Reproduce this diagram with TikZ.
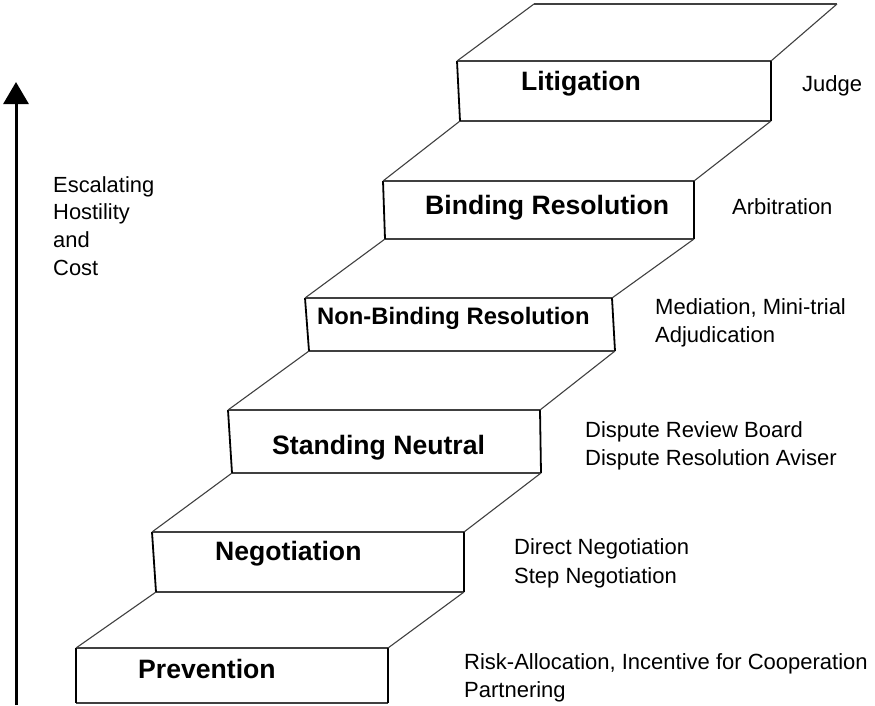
\documentclass[tikz,border=0pt]{standalone}
\usepackage{fontspec}
\setmainfont{Liberation Sans}
\usetikzlibrary{arrows.meta}
\begin{document}
\begin{tikzpicture}[x=1pt,y=-1pt,
  hline/.style={line width=1.1pt,draw=black!75},
  vline/.style={line width=1.8pt,draw=black},
  stepname/.style={anchor=base west,inner sep=0pt,font=\fontsize{26.6}{30}\selectfont\bfseries},
  sidelabel/.style={anchor=base west,inner sep=0pt,font=\fontsize{22}{26}\selectfont},
  axlabel/.style={anchor=base west,inner sep=0pt,font=\fontsize{21.9}{26}\selectfont},
  axarrow/.style={line width=3pt,-{Triangle[width=25pt,length=22pt]}}
]
\useasboundingbox (0,0) rectangle (875,705);

% step corners (tl, tr, br, bl)
\coordinate (s1tl) at (76,648);  \coordinate (s1tr) at (388,648); \coordinate (s1br) at (388,703); \coordinate (s1bl) at (76,703);
\coordinate (s2tl) at (152,532); \coordinate (s2tr) at (464,532); \coordinate (s2br) at (464,592); \coordinate (s2bl) at (156,592);
\coordinate (s3tl) at (228,410); \coordinate (s3tr) at (540,410); \coordinate (s3br) at (541,473); \coordinate (s3bl) at (232,473);
\coordinate (s4tl) at (305,298); \coordinate (s4tr) at (612,298); \coordinate (s4br) at (615,351); \coordinate (s4bl) at (309,351);
\coordinate (s5tl) at (383,181); \coordinate (s5tr) at (694,181); \coordinate (s5br) at (694,239); \coordinate (s5bl) at (385,239);
\coordinate (s6tl) at (457,61);  \coordinate (s6tr) at (771,61);  \coordinate (s6br) at (771,121); \coordinate (s6bl) at (460,121);
\coordinate (s7bl) at (534,4);   \coordinate (s7br) at (837,4);

% front faces
\foreach \i in {1,...,6}{
  \draw[hline] (s\i tl) -- (s\i tr);
  \draw[hline] (s\i bl) -- (s\i br);
  \draw[vline] (s\i tl) -- (s\i bl);
  \draw[vline] (s\i tr) -- (s\i br);
}
% treads
\foreach \i/\j in {1/2,2/3,3/4,4/5,5/6,6/7}{
  \draw[hline] (s\i tl) -- (s\j bl);
  \draw[hline] (s\i tr) -- (s\j br);
}
\draw[hline] (s7bl) -- (s7br);

% step names
\node[stepname] (n1) at (138,678) {Prevention};
\node[stepname] (n2) at (215,560) {Negotiation};
\node[stepname] (n3) at (272,454) {Standing Neutral};
\node[stepname,font=\fontsize{23.8}{28}\selectfont\bfseries] (n4) at (317,324) {Non-Binding Resolution};
\node[stepname] (n5) at (425,214) {Binding Resolution};
\node[stepname] (n6) at (521,90.5) {Litigation};

% side labels
\node[sidelabel] (l6) at (802,91) {Judge};
\node[sidelabel] (l5) at (732,214) {Arbitration};
\node[sidelabel] (l4a) at (655,314) {Mediation, Mini-trial};
\node[sidelabel] (l4b) at (655,342) {Adjudication};
\node[sidelabel] (l3a) at (585,437) {Dispute Review Board};
\node[sidelabel] (l3b) at (585,465) {Dispute Resolution Aviser};
\node[sidelabel] (l2a) at (514,554) {Direct Negotiation};
\node[sidelabel] (l2b) at (514,583) {Step Negotiation};
\node[sidelabel] (l1a) at (464,669) {Risk-Allocation, Incentive for Cooperation};
\node[sidelabel] (l1b) at (464,697) {Partnering};

% axis
\coordinate (abot) at (16,705);
\coordinate (atop) at (16,82);
\draw[axarrow] (abot) -- (atop);
\node[axlabel] (e1) at (53,192) {Escalating};
\node[axlabel] (e2) at (53,219) {Hostility};
\node[axlabel] (e3) at (53,247) {and};
\node[axlabel] (e4) at (53,275) {Cost};
\end{tikzpicture}
\end{document}
